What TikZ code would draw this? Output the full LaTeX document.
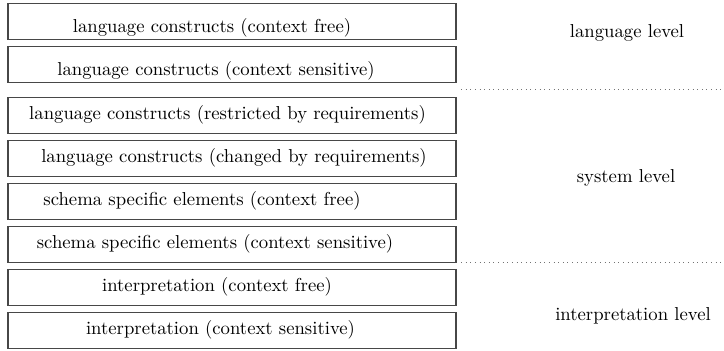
\documentclass[tikz,border=0pt]{standalone}
\usepackage{tikz}
\begin{document}
\begin{tikzpicture}[x=0.54pt,y=-0.54pt,
  layerbox/.style={draw=black!72,line width=0.6pt,rectangle,
    minimum width=241.9pt,minimum height=19.4pt,inner sep=0pt},
  layertext/.style={font=\fontsize{10.1}{12}\selectfont,inner sep=0pt},
  levellabel/.style={font=\fontsize{10.1}{12}\selectfont,inner sep=0pt},
  separator/.style={draw=black!55,dotted,line width=0.5pt}]
\useasboundingbox (0,0) rectangle (724,350);
% stacked layers
\node[layerbox] (b1) at (232,21.5)  {};
\node[layerbox] (b2) at (232,64.5)  {};
\node[layerbox] (b3) at (232,115.5) {};
\node[layerbox] (b4) at (232,158.5) {};
\node[layerbox] (b5) at (232,201.5) {};
\node[layerbox] (b6) at (232,244.5) {};
\node[layerbox] (b7) at (232,287.5) {};
\node[layerbox] (b8) at (232,330.5) {};
% layer captions
\node[layertext] (t1) at ([shift={(-20,6)}]b1.center)  {language constructs (context free)};
\node[layertext] (t2) at ([shift={(-16,6)}]b2.center)  {language constructs (context sensitive)};
\node[layertext] (t3) at ([shift={(-4.5,-1)}]b3.center) {language constructs (restricted by requirements)};
\node[layertext] (t4) at ([shift={(2,-1)}]b4.center)   {language constructs (changed by requirements)};
\node[layertext] (t5) at ([shift={(-30,-1)}]b5.center) {schema specific elements (context free)};
\node[layertext] (t6) at ([shift={(-17,-1)}]b6.center) {schema specific elements (context sensitive)};
\node[layertext] (t7) at ([shift={(-15,-1)}]b7.center)  {interpretation (context free)};
\node[layertext] (t8) at ([shift={(-11.5,-1)}]b8.center) {interpretation (context sensitive)};
% level names
\node[levellabel] (l1) at (627,33)  {language level};
\node[levellabel] (l2) at (626,178) {system level};
\node[levellabel] (l3) at (633,316) {interpretation level};
% level separators
\coordinate (s1a) at (461,89);  \coordinate (s1b) at (724,89);
\coordinate (s2a) at (461,262); \coordinate (s2b) at (724,262);
\draw[separator] (s1a) -- (s1b);
\draw[separator] (s2a) -- (s2b);
\end{tikzpicture}
\end{document}
